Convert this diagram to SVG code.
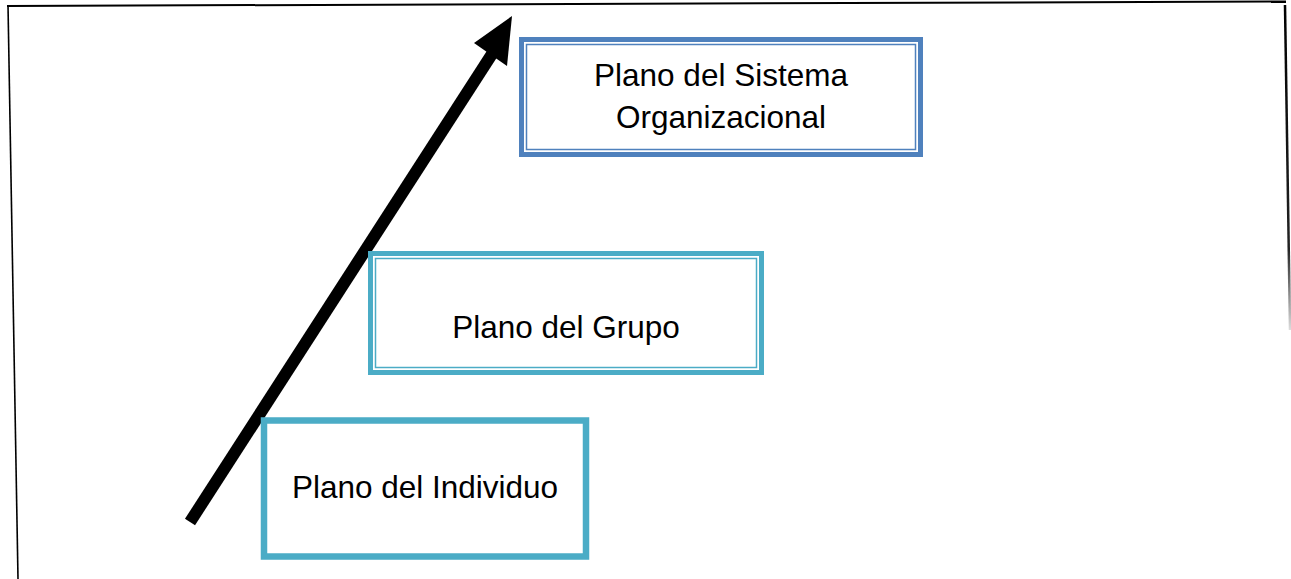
<svg xmlns="http://www.w3.org/2000/svg" width="1291" height="579" viewBox="0 0 1291 579">
<style>
.lbl{font-family:"Liberation Sans",Arial,sans-serif;font-size:31.5px;fill:#000;text-anchor:middle}
.thick{fill:none;stroke-width:5}
.thin{fill:none;stroke-width:1.5}
.teal{stroke:#4BACC6}
.blue{stroke:#4F81BD}
</style>
<defs>
<linearGradient id="fadeR" x1="0" y1="0" x2="0" y2="1">
<stop offset="0" stop-color="#000"/>
<stop offset="0.75" stop-color="#222"/>
<stop offset="1" stop-color="#ddd"/>
</linearGradient>
</defs>
<rect width="1291" height="579" fill="#fff"/>
<g id="frame">
<line x1="7" y1="6" x2="1286" y2="1.5" stroke="#000" stroke-width="2"/>
<line x1="8" y1="5" x2="18" y2="579" stroke="#000" stroke-width="1.6"/>
<path d="M1285 5 L1290 330" stroke="url(#fadeR)" stroke-width="2.5" fill="none"/>
</g>
<g id="connectors">
<line x1="190" y1="522" x2="492" y2="54" stroke="#000" stroke-width="12"/>
<polygon points="512,16 474,43 507,66" fill="#000"/>
</g>
<g id="node-organizacional">
<rect class="thick blue" x="521.5" y="39.5" width="399" height="115"/>
<rect class="thin blue" x="526.5" y="44.5" width="389" height="105"/>
<text class="lbl" x="721" y="86">Plano del Sistema</text>
<text class="lbl" x="721" y="128.3">Organizacional</text>
</g>
<g id="node-grupo">
<rect class="thick teal" x="370.5" y="253.5" width="391" height="119"/>
<rect class="thin teal" x="375.5" y="258.5" width="381" height="109"/>
<text class="lbl" x="566" y="338">Plano del Grupo</text>
</g>
<g id="node-individuo">
<rect fill="#fff" stroke="#4BACC6" stroke-width="6.5" x="264" y="420.5" width="322" height="136"/>
<text class="lbl" x="425" y="498.3">Plano del Individuo</text>
</g>
</svg>
